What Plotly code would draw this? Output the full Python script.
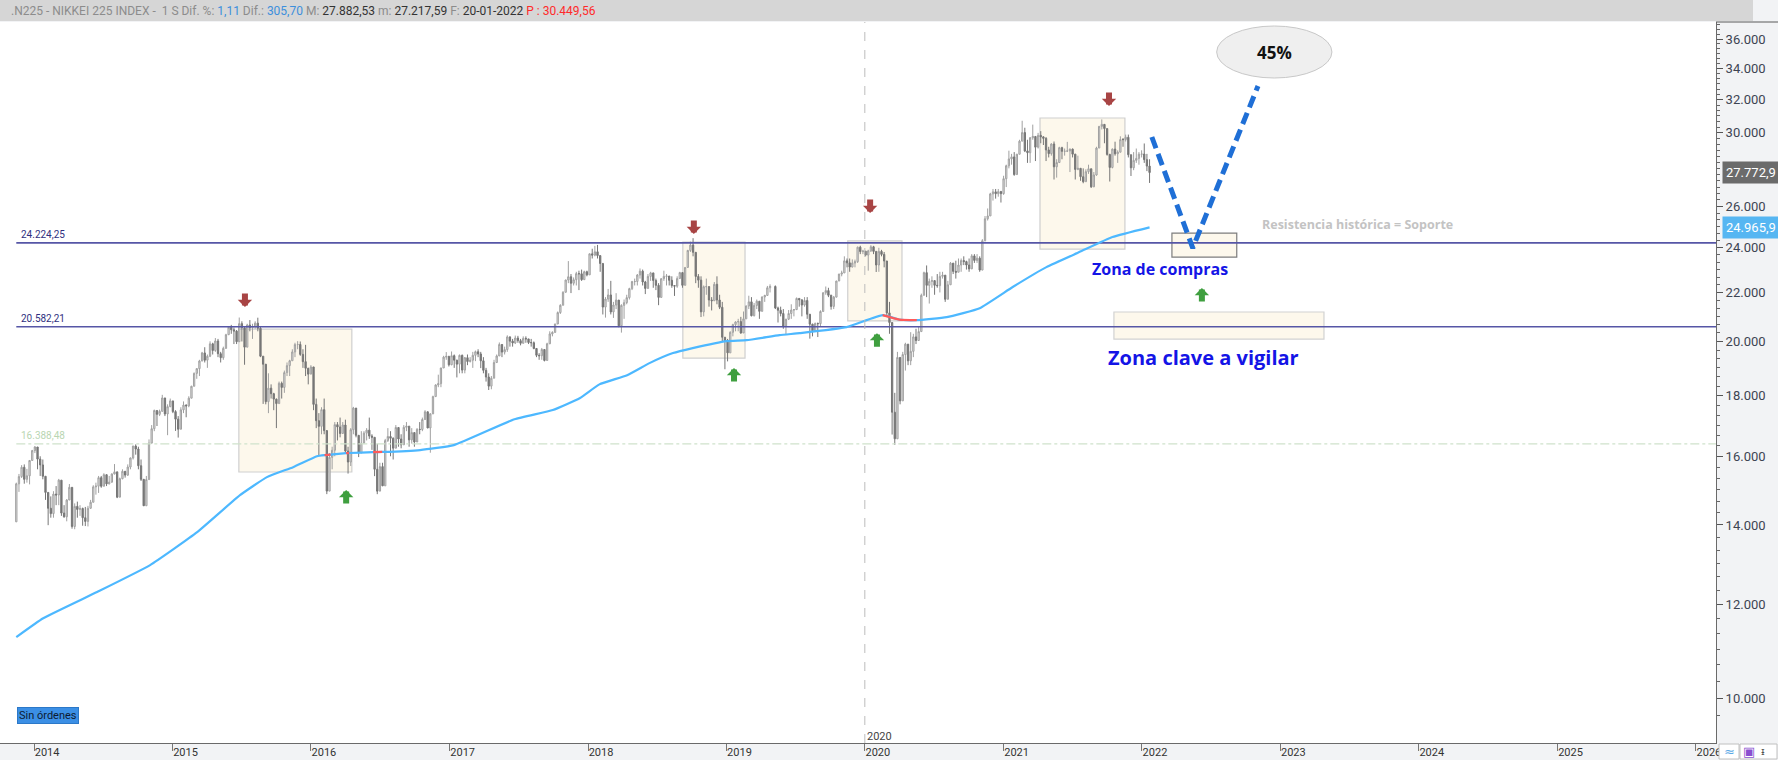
import math
import pandas as pd
import plotly.graph_objects as go

# ---------------- weekly OHLC data ----------------
first_open = 14086
close_2013 = [15166, 15382, 15662, 15299, 15404, 15870, 16178]
high_2013 = [15200, 15460, 15727, 15749, 15613, 15880, 16200]
low_2013 = [14180, 14930, 15340, 15170, 15200, 15150, 15900]

close_2014 = [16291, 15912, 15734, 15391, 14915, 14462, 14313, 14866, 14841, 15274, 14328, 14224, 14696, 15063, 13960, 14516, 14429, 14457, 14199, 14097, 14462, 14632, 15077, 15097, 15349, 15095, 15437, 15164, 15215, 15457, 15523, 14778, 15318, 15539, 15425, 15669, 15948, 16321, 16229, 15709, 15300, 14533, 15291, 16414, 16881, 17490, 17358, 17460, 17921, 17371, 17621, 17819]
high_2014 = [16320, 16164, 16000, 15900, 15330, 14900, 14800, 14950, 15100, 15312, 15250, 14550, 14720, 15160, 15000, 14600, 14650, 14550, 14480, 14500, 14530, 14700, 15125, 15200, 15400, 15400, 15480, 15450, 15400, 15480, 15760, 15400, 15350, 15600, 15550, 15750, 15960, 16330, 16375, 16300, 15900, 15250, 15400, 16533, 17000, 17520, 17490, 17520, 18030, 17900, 17700, 17900]
low_2014 = [16100, 15600, 15400, 15300, 14700, 13995, 14200, 14200, 14550, 14550, 14250, 14200, 14100, 14700, 13900, 13885, 14200, 14250, 13980, 13970, 13960, 14450, 14650, 14850, 14900, 15050, 15100, 15100, 15150, 15200, 15450, 14750, 14800, 15300, 15350, 15400, 15600, 15900, 16050, 15600, 15250, 14529, 14800, 15300, 16700, 16800, 16970, 17300, 17550, 17300, 16670, 17600]

close_2015 = [17451, 17198, 16864, 17511, 17674, 17648, 17913, 18332, 18798, 18971, 19254, 19560, 19286, 19435, 19908, 19653, 20020, 19532, 19379, 19733, 20264, 20563, 20461, 20407, 19990, 20706, 20540, 19780, 20650, 20545, 20585, 20725, 20520, 19436, 19136, 17792, 18265, 18070, 17880, 17725, 18438, 18291, 18826, 19083, 19265, 19597, 19880, 19884, 19504, 19231, 18986, 18770]
high_2015 = [17600, 17500, 17300, 17600, 17800, 17700, 17980, 18350, 18830, 18990, 19300, 19600, 19778, 19500, 20006, 19950, 20133, 20100, 19600, 19800, 20300, 20600, 20655, 20550, 20450, 20953, 20800, 20600, 20700, 20850, 20700, 20800, 20946, 20600, 19400, 19000, 18800, 18400, 18100, 17900, 18500, 18500, 18900, 19200, 19300, 19700, 19950, 20012, 20000, 19700, 19870, 19000]
low_2015 = [17400, 16808, 16592, 16900, 17400, 17260, 17600, 17950, 18350, 18600, 18700, 19250, 19200, 19000, 19400, 19500, 19600, 19400, 19200, 19300, 19800, 20260, 20300, 19900, 19900, 20100, 20000, 19115, 19800, 20400, 20100, 20500, 20400, 19400, 17714, 17700, 17400, 17900, 17500, 16901, 17800, 17900, 18100, 18700, 18700, 19300, 19400, 19700, 19450, 19000, 18700, 18400]

close_2016 = [19034, 17698, 17147, 16958, 17518, 16820, 14953, 15967, 16188, 17015, 16939, 16725, 17003, 16164, 15822, 16848, 17572, 16666, 16106, 16412, 16736, 16834, 16642, 16601, 15600, 14952, 15682, 15107, 16497, 16627, 16569, 16254, 16920, 16546, 16361, 16926, 16965, 16519, 16754, 16450, 16860, 16856, 17185, 17446, 16905, 17374, 17968, 18381, 18426, 18996, 19401, 19428, 19114]
high_2016 = [19100, 18951, 17900, 17400, 17600, 17900, 16800, 16100, 16300, 17100, 17100, 17250, 17100, 17180, 16300, 16900, 17613, 17500, 16600, 16800, 16800, 16900, 17250, 16700, 16500, 16390, 15800, 15800, 16550, 16900, 16800, 16600, 17000, 16800, 16700, 17000, 17100, 16800, 16900, 16700, 16900, 17100, 17250, 17500, 17450, 17400, 18000, 18400, 18750, 19000, 19450, 19592, 19450]
low_2016 = [18800, 17500, 16900, 16017, 16700, 16700, 14865, 15500, 15600, 16000, 16500, 16600, 16800, 16100, 15471, 15700, 16700, 16600, 15975, 16100, 16500, 16500, 16550, 16200, 15395, 14864, 15000, 15100, 15200, 16450, 16000, 15900, 16300, 16300, 16250, 16500, 16800, 16300, 16400, 16300, 16500, 16700, 16800, 17200, 16900, 16111, 17500, 18000, 18300, 18300, 19100, 19300, 19050]

close_2017 = [19454, 19287, 19137, 19467, 18918, 19379, 19235, 19284, 19469, 19605, 19522, 19263, 18909, 18665, 18336, 18621, 19197, 19446, 19884, 19591, 19687, 20178, 20013, 19943, 20133, 20033, 19929, 20119, 20100, 19960, 19952, 19730, 19470, 19453, 19691, 19275, 19910, 20296, 20356, 20691, 21155, 21458, 22008, 22539, 22681, 22397, 22551, 22819, 22811, 22553, 22903, 22765]
high_2017 = [19615, 19500, 19300, 19500, 19500, 19400, 19500, 19400, 19600, 19650, 19700, 19600, 19400, 19000, 18800, 18700, 19300, 19500, 19961, 19900, 19800, 20240, 20200, 20100, 20230, 20220, 20100, 20200, 20200, 20100, 20100, 20000, 19700, 19550, 19750, 19700, 19950, 20400, 20400, 20700, 21200, 21500, 22050, 22550, 23382, 22800, 22650, 22900, 22950, 23000, 22950, 22950]
low_2017 = [19100, 19000, 18650, 18800, 18800, 18800, 19100, 19200, 19000, 19250, 19400, 18990, 18800, 18500, 18200, 18225, 18700, 19200, 19600, 19400, 19500, 19600, 19800, 19800, 19900, 19950, 19850, 19950, 19950, 19900, 19800, 19700, 19400, 19300, 19300, 19240, 19300, 19900, 20200, 20350, 20700, 21100, 21500, 22000, 22400, 21972, 22300, 22300, 22100, 22500, 22600, 22700]

close_2018 = [23714, 23654, 23808, 23632, 23275, 21383, 21720, 21893, 21182, 21469, 21676, 20618, 21454, 21568, 21779, 22163, 22468, 22473, 22758, 22930, 22451, 22171, 22695, 22852, 22517, 22305, 21788, 22597, 22698, 22713, 22526, 22298, 22270, 22601, 22865, 22307, 23095, 23870, 24120, 23784, 22695, 22532, 21185, 22244, 22250, 21680, 21647, 22351, 21679, 21375, 20166, 20015]
high_2018 = [23731, 23950, 24084, 24129, 23600, 23000, 21800, 22150, 22500, 21600, 21968, 21600, 21500, 21700, 21900, 22200, 22500, 22600, 22800, 23050, 23000, 22500, 22800, 22900, 22800, 22600, 22400, 22600, 22950, 22800, 22600, 22700, 22300, 22700, 22900, 22800, 23100, 23900, 24286, 24448, 23700, 22800, 22700, 22300, 22600, 22100, 21800, 22450, 22700, 21900, 21600, 20100]
low_2018 = [23000, 23500, 23600, 23500, 22900, 21078, 20950, 21600, 21080, 20937, 21300, 20560, 20347, 20900, 21500, 21700, 22100, 22300, 22300, 22600, 22300, 21930, 22200, 22500, 22200, 22100, 21462, 21800, 22500, 22300, 22300, 22200, 21851, 22200, 22600, 22200, 22400, 23200, 23800, 23600, 22400, 22200, 20972, 21000, 21900, 21400, 21243, 21700, 21500, 21300, 20000, 18949]

close_2019 = [19562, 20360, 20666, 20774, 20788, 20333, 20900, 21426, 21602, 21026, 21451, 21627, 21206, 21807, 21871, 22200, 22259, 21345, 21250, 21117, 20601, 20885, 21117, 21259, 21276, 21746, 21686, 21467, 21658, 21087, 20685, 20419, 20711, 20704, 21200, 21988, 22079, 21879, 21410, 21799, 22493, 22800, 22851, 23392, 23303, 23113, 23294, 23354, 24023, 23817, 23838]
high_2019 = [20100, 20400, 20700, 20800, 20900, 20980, 21200, 21450, 21860, 21800, 21550, 21700, 21500, 21830, 21900, 22280, 22350, 22300, 21400, 21400, 21300, 20900, 21260, 21500, 21300, 21784, 21750, 21700, 21800, 21800, 20800, 20700, 20750, 20750, 21250, 22000, 22255, 22200, 21900, 21850, 22500, 22810, 22950, 23600, 23500, 23500, 23460, 23450, 24050, 24091, 23900]
low_2019 = [19241, 19900, 20200, 20400, 20400, 20300, 20350, 21000, 21300, 21000, 21000, 21300, 20900, 21300, 21600, 21900, 22000, 21300, 20751, 21000, 20500, 20289, 20850, 20900, 21000, 21500, 21400, 21000, 21400, 20900, 20110, 20200, 20400, 20173, 20600, 21300, 21900, 21800, 21277, 21300, 21900, 22500, 22700, 22900, 23100, 22900, 23100, 23100, 23300, 23700, 23700]

close_2020 = [23657, 23851, 24041, 23827, 23205, 23828, 23688, 23387, 21143, 20750, 17431, 16553, 19389, 17820, 19498, 19897, 19262, 19619, 20179, 20037, 20388, 21878, 22863, 22305, 22478, 22512, 22306, 22291, 22696, 22751, 21710, 22329, 23289, 22920, 22882, 23205, 23406, 23360, 23204, 23030, 23620, 23411, 23516, 22977, 24325, 25385, 25527, 26644, 26751, 26652, 26763, 26656]
high_2020 = [23800, 23903, 24115, 24084, 23700, 23995, 23900, 23800, 23000, 21600, 20600, 18100, 19600, 19100, 19600, 19950, 19800, 20365, 20300, 20500, 20600, 21950, 22907, 23185, 22600, 22700, 22500, 22800, 22900, 22900, 22700, 22500, 23338, 23200, 23400, 23500, 23500, 23600, 23400, 23500, 23700, 23700, 23700, 23600, 24400, 25520, 25900, 26700, 26900, 26900, 26900, 26800]
low_2020 = [23600, 22951, 23800, 23700, 22892, 22900, 23600, 23100, 21000, 20300, 16690, 16358, 16800, 17700, 17950, 18900, 19100, 19100, 19400, 19900, 20100, 20500, 21900, 21800, 21530, 22200, 21900, 22200, 22000, 22600, 21600, 21850, 22400, 22800, 22600, 23000, 22900, 23200, 23000, 22900, 23200, 23300, 23300, 22900, 23000, 24300, 25300, 25700, 26300, 26400, 26500, 26200]

close_2021 = [27444, 28139, 28519, 28631, 27663, 28779, 29520, 30018, 28966, 28864, 29718, 29792, 29177, 29854, 29768, 29683, 29021, 28813, 29358, 28084, 28318, 29149, 28942, 28949, 28964, 29066, 28783, 27940, 28003, 27548, 27284, 27820, 27977, 27013, 27641, 29128, 30382, 30500, 30249, 28771, 28049, 29069, 28805, 28893, 29612, 29610, 29746, 28752, 28030, 28438, 28546, 28782, 28792]
high_2021 = [27600, 28200, 28979, 28800, 28900, 28800, 29600, 30714, 30300, 29600, 29750, 30485, 29800, 30000, 30100, 29800, 29750, 29200, 29400, 29500, 28500, 29200, 29200, 29100, 29480, 29100, 29100, 28800, 28700, 28000, 28000, 27950, 28200, 27800, 27800, 29200, 30400, 30795, 30300, 30200, 28800, 29100, 29490, 29000, 29800, 29700, 29900, 29900, 28600, 28900, 29100, 28900, 29000]
low_2021 = [26600, 27000, 28000, 28200, 27600, 27700, 28800, 29700, 28900, 28300, 28300, 29600, 28400, 29100, 29400, 29300, 28400, 28600, 28700, 27400, 27500, 28300, 28500, 28700, 28900, 27800, 28600, 27400, 27900, 27330, 27200, 27300, 27700, 26954, 27000, 27600, 29300, 30200, 29400, 28700, 27293, 28000, 28700, 28300, 28900, 29200, 29500, 28600, 27588, 27900, 28300, 28200, 28600]

close_2022 = [28479, 28124, 27773]
high_2022 = [29388, 28800, 28500]
low_2022 = [28300, 27850, 27217]

# 200-week moving average
ma_dates = ["2013-11-15", "2014-01-25", "2014-06-16", "2014-11-03", "2015-03-07", "2015-06-28",
            "2015-09-07", "2015-11-15", "2016-01-17", "2016-02-06", "2016-02-22", "2016-04-03",
            "2016-04-11", "2016-06-13", "2016-07-07", "2016-10-15", "2017-01-12", "2017-06-21",
            "2017-09-30", "2017-12-11", "2018-01-31", "2018-04-14", "2018-06-12", "2018-08-13",
            "2018-10-04", "2019-01-01", "2019-02-23", "2019-05-21", "2019-07-13", "2019-11-14",
            "2020-02-17", "2020-04-01", "2020-05-17", "2020-08-04", "2020-10-30", "2021-01-25",
            "2021-04-24", "2021-07-20", "2021-10-15", "2022-01-21"]
ma_values = [11260, 11680, 12290, 12950, 13805, 14835,
             15365, 15665, 16000, 16035, 16050, 16098,
             16102, 16128, 16135, 16195, 16350, 17195,
             17505, 17920, 18400, 18730, 19176, 19555,
             19745, 20015, 20050, 20246, 20326, 20565,
             21050, 20870, 20845, 20967, 21338, 22233,
             23110, 23795, 24500, 24966]
ma_red_segments = [
    (["2016-02-06", "2016-02-22"], [16035, 16050]),
    (["2016-04-03", "2016-04-11"], [16098, 16102]),
    (["2016-06-13", "2016-07-07"], [16128, 16135]),
    (["2020-02-17", "2020-04-01", "2020-05-17"], [21050, 20870, 20845]),
]

# horizontal levels
level_values = [24224.25, 20582.21]
level_min = 16388.48

# zones (x0, x1, y0, y1)
box_x0 = ["2015-06-25", "2018-09-08", "2019-11-17", "2021-04-07", "2022-03-21", "2021-10-19"]
box_x1 = ["2016-04-18", "2019-02-19", "2020-04-08", "2021-11-17", "2022-09-08", "2023-04-26"]
box_y0 = [15518, 19364, 20813, 23933, 23565, 20095]
box_y1 = [20486, 24265, 24315, 30878, 24690, 21180]
box_edge = ["#cfcfcf", "#cfcfcf", "#cfcfcf", "#cfcfcf", "#7d7d7d", "#d2d2d2"]

# arrows (tip positions)
down_dates = ["2015-07-11", "2018-10-07", "2020-01-15", "2021-10-06"]
down_prices = [21385, 24645, 25670, 31605]
up_dates = ["2016-04-03", "2019-01-21", "2020-02-02", "2022-06-08"]
up_prices = [14985, 18992, 20326, 22186]

# projected path
proj_dates = ["2022-01-27", "2022-05-15", "2022-11-03"]
proj_prices = [29760, 23983, 32860]

last_close = 27772.9
last_ma = 24965.9

header_parts = [
    (".N225 - NIKKEI 225 INDEX -  1 S Dif. %: ", "#8c8c8c"), ("1,11", "#3d8fdc"),
    (" Dif.: ", "#8c8c8c"), ("305,70", "#3d8fdc"),
    (" M: ", "#8c8c8c"), ("27.882,53", "#333333"),
    (" m: ", "#8c8c8c"), ("27.217,59", "#333333"),
    (" F: ", "#8c8c8c"), ("20-01-2022", "#333333"),
    (" P : 30.449,56", "#ff2a2a"),
]

y_major = [10000, 12000, 14000, 16000, 18000, 20000, 22000, 24000, 26000, 30000, 32000, 34000, 36000]
years = list(range(2014, 2027))


def es(v, dec):
    s = f"{v:,.{dec}f}"
    return s.replace(",", "X").replace(".", ",").replace("X", ".")


# ---------------- assemble ----------------
close = sum([close_2013, close_2014, close_2015, close_2016, close_2017, close_2018,
             close_2019, close_2020, close_2021, close_2022], [])
high = sum([high_2013, high_2014, high_2015, high_2016, high_2017, high_2018,
            high_2019, high_2020, high_2021, high_2022], [])
low = sum([low_2013, low_2014, low_2015, low_2016, low_2017, low_2018,
           low_2019, low_2020, low_2021, low_2022], [])

dates = pd.date_range("2013-11-15", "2022-01-21", freq="W-FRI")
dates = dates[dates != pd.Timestamp("2019-05-03")]
n = min(len(dates), len(close))
dates = dates[-n:]
close = close[-n:]
high = high[-n:]
low = low[-n:]
opens = ([first_open] + close[:-1])[-n:]
high = [max(h, o, c) for h, o, c in zip(high, opens, close)]
low = [min(l, o, c) for l, o, c in zip(low, opens, close)]

X_START, X_END = "2013-10-03", "2026-02-23"
Y_RANGE = [3.9621, 4.5707]
L10 = math.log10

fig = go.Figure()

# horizontal levels
for v in level_values:
    fig.add_trace(go.Scatter(x=[dates[0], X_END], y=[v, v], mode="lines",
                             line=dict(color="#5656a6", width=1.6), hoverinfo="skip", showlegend=False))
fig.add_trace(go.Scatter(x=[dates[0], X_END], y=[level_min, level_min], mode="lines",
                         line=dict(color="#cfe2cc", width=1.2, dash="dashdot"), hoverinfo="skip",
                         showlegend=False))

# moving average
fig.add_trace(go.Scatter(x=ma_dates, y=ma_values, mode="lines",
                         line=dict(color="#4db8ff", width=2.2, shape="spline", smoothing=0.4),
                         hoverinfo="skip", showlegend=False))
for sx, sy in ma_red_segments:
    fig.add_trace(go.Scatter(x=sx, y=sy, mode="lines",
                             line=dict(color="#ff5a5a", width=2.2, shape="spline", smoothing=0.4),
                             hoverinfo="skip", showlegend=False))

# candles
fig.add_trace(go.Candlestick(
    x=dates, open=opens, high=high, low=low, close=close,
    increasing=dict(line=dict(color="#a0a0a0", width=1), fillcolor="#e6e6e6"),
    decreasing=dict(line=dict(color="#767676", width=1), fillcolor="#767676"),
    whiskerwidth=0, hoverinfo="skip", showlegend=False))

# projection
fig.add_trace(go.Scatter(x=proj_dates, y=proj_prices, mode="lines",
                         line=dict(color="#1f6fd6", width=5, dash="12px,6px"),
                         hoverinfo="skip", showlegend=False))

annotations = []
# level labels
for v in level_values:
    annotations.append(dict(x=dates[0], y=L10(v), xref="x", yref="y", text=es(v, 2), showarrow=False,
                            xanchor="left", yanchor="bottom", xshift=3, yshift=1,
                            font=dict(family="Roboto", size=10, color="#2f2f80")))
annotations.append(dict(x=dates[0], y=L10(level_min), xref="x", yref="y", text=es(level_min, 2),
                        showarrow=False, xanchor="left", yanchor="bottom", xshift=3, yshift=1,
                        font=dict(family="Roboto", size=10, color="#b9d6b2")))
# arrows
for d, p in zip(down_dates, down_prices):
    annotations.append(dict(x=d, y=L10(p), xref="x", yref="y", text="", showarrow=True,
                            ax=0, ay=-15, arrowhead=1, arrowwidth=6, arrowsize=0.4,
                            arrowcolor="#a84444", standoff=0))
for d, p in zip(up_dates, up_prices):
    annotations.append(dict(x=d, y=L10(p), xref="x", yref="y", text="", showarrow=True,
                            ax=0, ay=15, arrowhead=1, arrowwidth=6, arrowsize=0.4,
                            arrowcolor="#3f9f3f", standoff=0))
# texts
annotations.append(dict(x="2022-02-17", y=L10(22850), xref="x", yref="y", text="<b>Zona de compras</b>",
                        showarrow=False, yshift=4, font=dict(family="Open Sans", size=16, color="#1414e6")))
annotations.append(dict(x="2022-06-11", y=L10(19364), xref="x", yref="y", text="<b>Zona clave a vigilar</b>",
                        showarrow=False, yshift=1, font=dict(family="Open Sans", size=20, color="#1414e6")))
annotations.append(dict(x="2023-07-24", y=L10(25124), xref="x", yref="y",
                        text="<b>Resistencia histórica = Soporte</b>", yshift=0,
                        showarrow=False, font=dict(family="Open Sans", size=12.5, color="#c3c3c3")))
annotations.append(dict(x="2022-12-17", y=L10(35100), xref="x", yref="y", text="<b>45%</b>",
                        showarrow=False, font=dict(family="Open Sans", size=17, color="#111111")))
# header
header = "".join(f'<span style="color:{c}">{t}</span>' for t, c in header_parts)
annotations.append(dict(x=9 / 1716, y=1 + 11 / 721, xref="paper", yref="paper", text=header,
                        showarrow=False, xanchor="left", yanchor="middle",
                        font=dict(family="Roboto", size=12)))
# price tags on axis
annotations.append(dict(x=1722 / 1716, y=L10(last_close), xref="paper", yref="y", text=es(last_close, 1),
                        showarrow=False, xanchor="left", yanchor="middle", bgcolor="#6b6b6b",
                        borderpad=3, font=dict(family="Roboto", size=13, color="#ffffff")))
annotations.append(dict(x=1722 / 1716, y=L10(last_ma), xref="paper", yref="y", text=es(last_ma, 1),
                        showarrow=False, xanchor="left", yanchor="middle", bgcolor="#56b6f2",
                        borderpad=3, font=dict(family="Roboto", size=13, color="#ffffff")))
# misc labels
annotations.append(dict(x=17 / 1716, y=(743 - 715) / 721, xref="paper", yref="paper", text="Sin órdenes",
                        showarrow=False, xanchor="left", yanchor="middle", bgcolor="#3b8fe5",
                        bordercolor="#2b78c8", borderwidth=1, borderpad=1,
                        font=dict(family="Roboto", size=11, color="#0d1b33")))
annotations.append(dict(x="2020-01-01", y=(743 - 736) / 721, xref="x", yref="paper", text="2020",
                        showarrow=False, xanchor="left", yanchor="middle", xshift=0,
                        font=dict(family="Roboto", size=11, color="#444444")))
# bottom-right toolbar glyphs
annotations.append(dict(x=1729 / 1716, y=-8.5 / 721, xref="paper", yref="paper", text="≈",
                        showarrow=False, xanchor="center", yanchor="middle",
                        font=dict(family="DejaVu Sans", size=13, color="#5aa9e6")))
annotations.append(dict(x=1749 / 1716, y=-8.5 / 721, xref="paper", yref="paper", text="▣",
                        showarrow=False, xanchor="center", yanchor="middle",
                        font=dict(family="DejaVu Sans", size=13, color="#8a4fd0")))
annotations.append(dict(x=1763 / 1716, y=-8.5 / 721, xref="paper", yref="paper", text="ᵻ",
                        showarrow=False, xanchor="center", yanchor="middle",
                        font=dict(family="DejaVu Sans", size=10, color="#555555")))

shapes = [
    dict(type="rect", xref="paper", yref="paper", x0=0, x1=1753 / 1716, y0=1 + 1 / 721, y1=1 + 22 / 721,
         fillcolor="#d6d6d6", line=dict(width=0), layer="below"),
    dict(type="line", xref="paper", yref="paper", x0=1, x1=1778 / 1716, y0=1, y1=1,
         line=dict(color="#5a5a5a", width=1)),
    dict(type="line", xref="x", yref="paper", x0="2020-01-01", x1="2020-01-01", y0=0, y1=1,
         line=dict(color="#bcbcbc", width=1, dash="dash")),
    dict(type="circle", xref="x", yref="y", x0="2022-07-17", x1="2023-05-17", y0=33376, y1=36925,
         fillcolor="#efefef", line=dict(color="#c8c8c8", width=1), layer="below"),
    # bottom-right toolbar boxes
    dict(type="rect", xref="paper", yref="paper", x0=1719 / 1716, x1=1739 / 1716, y0=-16 / 721, y1=-1 / 721,
         fillcolor="#ffffff", line=dict(color="#c0c0c0", width=1)),
    dict(type="rect", xref="paper", yref="paper", x0=1740 / 1716, x1=1777 / 1716, y0=-16 / 721, y1=-1 / 721,
         fillcolor="#ffffff", line=dict(color="#c0c0c0", width=1)),
]
for x0, x1, y0, y1, ec in zip(box_x0, box_x1, box_y0, box_y1, box_edge):
    shapes.append(dict(type="rect", xref="x", yref="y", x0=x0, x1=x1, y0=y0, y1=y1,
                       fillcolor="#fdf8ec", line=dict(color=ec, width=1.2), layer="below"))

minor_vals = [10000 + k * 2000 / 6 for k in range(-1, 83) if k % 6 != 0] + [28000]

fig.update_layout(
    width=1778, height=760,
    margin=dict(l=0, r=62, t=22, b=17),
    paper_bgcolor="#f2f3f5", plot_bgcolor="#ffffff",
    showlegend=False, hovermode=False,
    annotations=annotations, shapes=shapes,
    xaxis=dict(type="date", range=[X_START, X_END], rangeslider=dict(visible=False),
               tickmode="array", tickvals=[f"{y}-01-01" for y in years], ticktext=[str(y) for y in years],
               ticks="outside", ticklen=7, tickcolor="#777777", showgrid=False, zeroline=False,
               showline=True, linecolor="#6a6a6a", linewidth=1, ticklabelshift=13,
               ticklabelstandoff=-8,
               tickfont=dict(family="Roboto", size=11, color="#333333")),
    yaxis=dict(type="log", range=Y_RANGE, side="right", tickmode="array", tickvals=y_major,
               ticktext=[es(v, 0) for v in y_major], ticks="outside", ticklen=6, tickcolor="#555555",
               showgrid=False, zeroline=False, showline=True, linecolor="#6a6a6a", linewidth=1,
               tickfont=dict(family="Roboto", size=13, color="#3d4452"),
               minor=dict(tickmode="array", tickvals=minor_vals, ticks="outside", ticklen=3,
                          tickcolor="#666666", showgrid=False)),
)

fig.write_html("out.html", config={"displayModeBar": False},
               post_script="document.body.style.margin='0';document.body.style.overflow='hidden';")
